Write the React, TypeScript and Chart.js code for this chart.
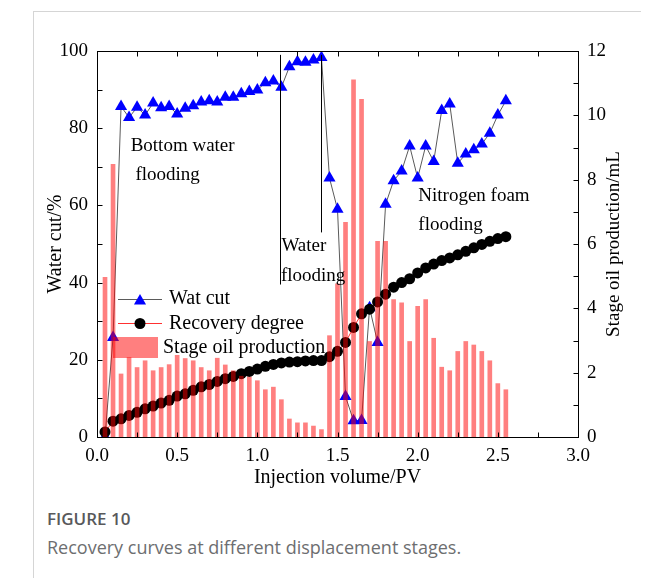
import React, { useEffect, useRef } from 'react';
import { Chart, registerables } from 'chart.js';

Chart.register(...registerables);

// ---------------- data ----------------
const injectionPV = [
  0.05, 0.1, 0.15, 0.2, 0.25, 0.3, 0.35, 0.4, 0.45, 0.5,
  0.55, 0.6, 0.65, 0.7, 0.75, 0.8, 0.85, 0.9, 0.95, 1.0,
  1.05, 1.1, 1.15, 1.2, 1.25, 1.3, 1.35, 1.4, 1.45, 1.5,
  1.55, 1.6, 1.65, 1.7, 1.75, 1.8, 1.85, 1.9, 1.95, 2.0,
  2.05, 2.1, 2.15, 2.2, 2.25, 2.3, 2.35, 2.4, 2.45, 2.5,
  2.55,
];

const waterCut = [
  0, 25.8, 85.6, 82.8, 85.4, 83.4, 86.5, 85.3, 85.6, 83.7,
  85.2, 85.8, 86.8, 87.1, 86.8, 88.0, 88.0, 88.9, 89.5, 89.9,
  91.8, 92.2, 90.6, 95.9, 97.2, 97.1, 97.7, 98.3, 67.1, 59.0,
  10.5, 4.2, 4.3, 33.5, 24.5, 60.3, 66.4, 68.9, 75.4, 67.1,
  75.4, 71.4, 84.6, 86.3, 70.9, 73.3, 74.4, 75.9, 78.7, 83.4,
  87.1,
];

const recoveryDegree = [
  1.3, 4.1, 4.7, 5.6, 6.4, 7.3, 8.0, 8.8, 9.5, 10.6,
  11.2, 12.1, 13.0, 13.6, 14.4, 15.1, 15.7, 16.4, 17.0, 17.6,
  18.3, 18.8, 19.2, 19.4, 19.5, 19.7, 19.8, 19.8, 20.8, 22.2,
  24.5, 28.4, 31.9, 33.1, 35.0, 37.0, 38.8, 40.0, 41.0, 42.5,
  43.8, 44.8, 45.7, 46.4, 47.2, 48.1, 49.0, 49.9, 50.7, 51.4,
  51.9,
];

const stageOil = [
  4.96, 8.48, 1.96, 2.47, 2.16, 2.37, 2.06, 2.16, 2.25, 2.54,
  2.44, 2.37, 2.16, 2.06, 2.45, 2.24, 2.06, 1.89, 1.86, 1.75,
  1.47, 1.55, 1.16, 0.56, 0.44, 0.44, 0.34, 0.23, 3.15, 4.76,
  6.67, 11.1, 10.5, 2.97, 6.08, 6.08, 4.27, 4.17, 2.97, 4.06,
  4.27, 3.07, 2.17, 2.06, 2.66, 2.97, 2.86, 2.66, 2.37, 1.66,
  1.47,
];

const xTickMarks = [0, 0.25, 0.5, 0.75, 1, 1.25, 1.5, 1.75, 2, 2.25, 2.5, 2.75, 3];
const yTickMarks = [0, 10, 20, 30, 40, 50, 60, 70, 80, 90, 100];
const y1TickMarks = [0, 1, 2, 3, 4, 5, 6, 7, 8, 9, 10, 11, 12];

// stage separators (x in PV, y range in water cut %)
const stageLines = [
  { x: 1.14, from: 39.5, to: 99 },
  { x: 1.4, from: 53, to: 99 },
];

const stageLabels = [
  { text: 'Bottom water', x: 0.21, y: 75.5 },
  { text: 'flooding', x: 0.24, y: 68.0 },
  { text: 'Water', x: 1.15, y: 49.4 },
  { text: 'flooding', x: 1.147, y: 41.8 },
  { text: 'Nitrogen foam', x: 2.004, y: 62.4 },
  { text: 'flooding', x: 2.004, y: 55.0 },
];

const legendLabels = ['Wat cut', 'Recovery degree', 'Stage oil production'];

// ---------------- styles ----------------
const SERIF = "'Liberation Serif', 'Times New Roman', serif";
const BAR_COLOR = 'rgba(255,0,0,0.5)';
const TRI_COLOR = '#0000ff';
const WC_LINE = '#5a5a5a';
const REC_LINE = '#ff3030';

function drawTriangle(ctx: CanvasRenderingContext2D, x: number, y: number, r: number) {
  ctx.beginPath();
  ctx.moveTo(x, y - r);
  ctx.lineTo(x + r * 0.866, y + r * 0.5);
  ctx.lineTo(x - r * 0.866, y + r * 0.5);
  ctx.closePath();
  ctx.fill();
}

const decorPlugin = {
  id: 'decor',
  afterDraw(chart: any) {
    const { ctx, chartArea: a, scales } = chart;
    const sx = scales.x;
    const sy = scales.y;
    const sy1 = scales.y1;
    ctx.save();

    // frame
    ctx.strokeStyle = '#000';
    ctx.lineWidth = 1;
    const L = Math.round(a.left) + 0.5;
    const R = Math.round(a.right) + 0.5;
    const T = Math.round(a.top) + 0.5;
    const B = Math.round(a.bottom) + 0.5;
    ctx.strokeRect(L, T, R - L, B - T);

    // inward ticks
    ctx.beginPath();
    xTickMarks.forEach((v) => {
      const px = Math.round(sx.getPixelForValue(v)) + 0.5;
      ctx.moveTo(px, B);
      ctx.lineTo(px, B - 5);
      ctx.moveTo(px, T);
      ctx.lineTo(px, T + 5);
    });
    yTickMarks.forEach((v) => {
      const py = Math.round(sy.getPixelForValue(v)) + 0.5;
      ctx.moveTo(L, py);
      ctx.lineTo(L + 5, py);
    });
    y1TickMarks.forEach((v) => {
      const py = Math.round(sy1.getPixelForValue(v)) + 0.5;
      ctx.moveTo(R, py);
      ctx.lineTo(R - 5, py);
    });
    ctx.stroke();

    // stage separator lines
    ctx.beginPath();
    stageLines.forEach((s) => {
      const px = Math.round(sx.getPixelForValue(s.x)) + 0.5;
      ctx.moveTo(px, sy.getPixelForValue(s.from));
      ctx.lineTo(px, sy.getPixelForValue(s.to));
    });
    ctx.stroke();

    // stage labels
    ctx.fillStyle = '#000';
    ctx.font = `19px ${SERIF}`;
    ctx.textAlign = 'left';
    ctx.textBaseline = 'middle';
    stageLabels.forEach((t) => {
      ctx.fillText(t.text, sx.getPixelForValue(t.x), sy.getPixelForValue(t.y));
    });

    // legend
    const lx = a.left;
    const ly = a.top;
    // row 1: water cut
    ctx.strokeStyle = WC_LINE;
    ctx.beginPath();
    ctx.moveTo(lx + 21, ly + 248.5);
    ctx.lineTo(lx + 65, ly + 248.5);
    ctx.stroke();
    ctx.fillStyle = TRI_COLOR;
    drawTriangle(ctx, lx + 43, ly + 250, 7);
    // row 2: recovery
    ctx.strokeStyle = REC_LINE;
    ctx.beginPath();
    ctx.moveTo(lx + 21, ly + 272.5);
    ctx.lineTo(lx + 65, ly + 272.5);
    ctx.stroke();
    ctx.fillStyle = '#000';
    ctx.beginPath();
    ctx.arc(lx + 43, ly + 272.5, 5.5, 0, Math.PI * 2);
    ctx.fill();
    // row 3: bars
    ctx.fillStyle = BAR_COLOR;
    ctx.fillRect(lx + 16, ly + 286, 45, 21);
    // texts
    ctx.fillStyle = '#000';
    ctx.font = `20px ${SERIF}`;
    ctx.fillText(legendLabels[0], lx + 72, ly + 248);
    ctx.fillText(legendLabels[1], lx + 72, ly + 273);
    ctx.fillText(legendLabels[2], lx + 66, ly + 297);

    // right axis title (reads bottom to top)
    ctx.save();
    ctx.translate(614, (a.top + a.bottom) / 2);
    ctx.rotate(-Math.PI / 2);
    ctx.textAlign = 'center';
    ctx.textBaseline = 'middle';
    ctx.font = `19px ${SERIF}`;
    ctx.fillText('Stage oil production/mL', 0, 0);
    ctx.restore();

    ctx.restore();
  },
};

export default function App() {
  const canvasRef = useRef<HTMLCanvasElement | null>(null);

  useEffect(() => {
    const canvas = canvasRef.current;
    if (!canvas) return;
    const tickFont = { family: SERIF, size: 19 };

    const chart = new Chart(canvas, {
      type: 'line',
      data: {
        datasets: [
          {
            type: 'bar',
            label: legendLabels[2],
            data: injectionPV.map((x, i) => ({ x, y: stageOil[i] })),
            yAxisID: 'y1',
            backgroundColor: BAR_COLOR,
            borderWidth: 0,
            barThickness: 4,
            order: 0,
          } as any,
          {
            type: 'line',
            label: legendLabels[1],
            data: injectionPV.map((x, i) => ({ x, y: recoveryDegree[i] })),
            yAxisID: 'y',
            borderColor: REC_LINE,
            borderWidth: 1,
            pointStyle: 'circle',
            pointRadius: 5.5,
            pointBackgroundColor: '#000',
            pointBorderColor: '#000',
            pointBorderWidth: 0,
            tension: 0,
            fill: false,
            order: 1,
          },
          {
            type: 'line',
            label: legendLabels[0],
            data: injectionPV.map((x, i) => ({ x, y: waterCut[i] })),
            yAxisID: 'y',
            borderColor: WC_LINE,
            borderWidth: 1,
            pointStyle: 'triangle',
            pointRadius: 7,
            pointBackgroundColor: TRI_COLOR,
            pointBorderColor: TRI_COLOR,
            pointBorderWidth: 0,
            tension: 0,
            fill: false,
            order: 2,
          },
        ],
      },
      options: {
        animation: false,
        responsive: false,
        events: [],
        layout: { padding: { top: 51, left: 0, right: 0, bottom: 0 }, autoPadding: false } as any,
        plugins: {
          legend: { display: false },
          tooltip: { enabled: false },
        },
        scales: {
          x: {
            type: 'linear',
            min: 0,
            max: 3,
            offset: false,
            grid: { display: false, offset: false, drawTicks: false },
            border: { display: false },
            ticks: {
              stepSize: 0.5,
              padding: 8,
              color: '#000',
              font: tickFont,
              maxRotation: 0,
              callback: (v: any) => Number(v).toFixed(1),
            },
            title: {
              display: true,
              text: 'Injection volume/PV',
              color: '#000',
              font: { family: SERIF, size: 20 },
              padding: { top: 0, bottom: 1 },
            },
            afterFit: (s: any) => {
              s.height = 54;
            },
          },
          y: {
            type: 'linear',
            position: 'left',
            min: 0,
            max: 100,
            grid: { display: false, drawTicks: false },
            border: { display: false },
            ticks: { stepSize: 20, padding: 9, color: '#000', font: tickFont },
            title: {
              display: true,
              text: 'Water cut/%',
              color: '#000',
              font: { family: SERIF, size: 20 },
              padding: { top: 44, bottom: 0 },
            },
            afterFit: (s: any) => {
              s.width = 97;
            },
          },
          y1: {
            type: 'linear',
            position: 'right',
            min: 0,
            max: 12,
            grid: { display: false, drawTicks: false },
            border: { display: false },
            ticks: { stepSize: 2, padding: 9, color: '#000', font: tickFont },
            afterFit: (s: any) => {
              s.width = 76;
            },
          },
        },
      } as any,
      plugins: [decorPlugin],
    });

    return () => chart.destroy();
  }, []);

  return (
    <div
      style={{
        position: 'absolute',
        left: 0,
        top: 0,
        width: 654,
        height: 578,
        background: '#fff',
        overflow: 'hidden',
      }}
    >
      <div
        style={{
          position: 'absolute',
          left: 33,
          top: 11,
          width: 607,
          height: 567,
          borderLeft: '1px solid #d5d5d5',
          borderTop: '1px solid #d5d5d5',
        }}
      />
      <canvas
        ref={canvasRef}
        width={654}
        height={491}
        style={{ position: 'absolute', left: 0, top: 0, width: 654, height: 491 }}
      />
      <div
        style={{
          position: 'absolute',
          left: 47,
          top: 508,
          fontFamily: "'Open Sans', 'Noto Sans', sans-serif",
          fontWeight: 600,
          fontSize: 17,
          lineHeight: '22px',
          color: '#58595b',
        }}
      >
        FIGURE 10
      </div>
      <div
        style={{
          position: 'absolute',
          left: 47,
          top: 535,
          fontFamily: "'Open Sans', 'Noto Sans', sans-serif",
          fontSize: 18,
          lineHeight: '24px',
          color: '#6d6e70',
        }}
      >
        Recovery curves at different displacement stages.
      </div>
    </div>
  );
}
